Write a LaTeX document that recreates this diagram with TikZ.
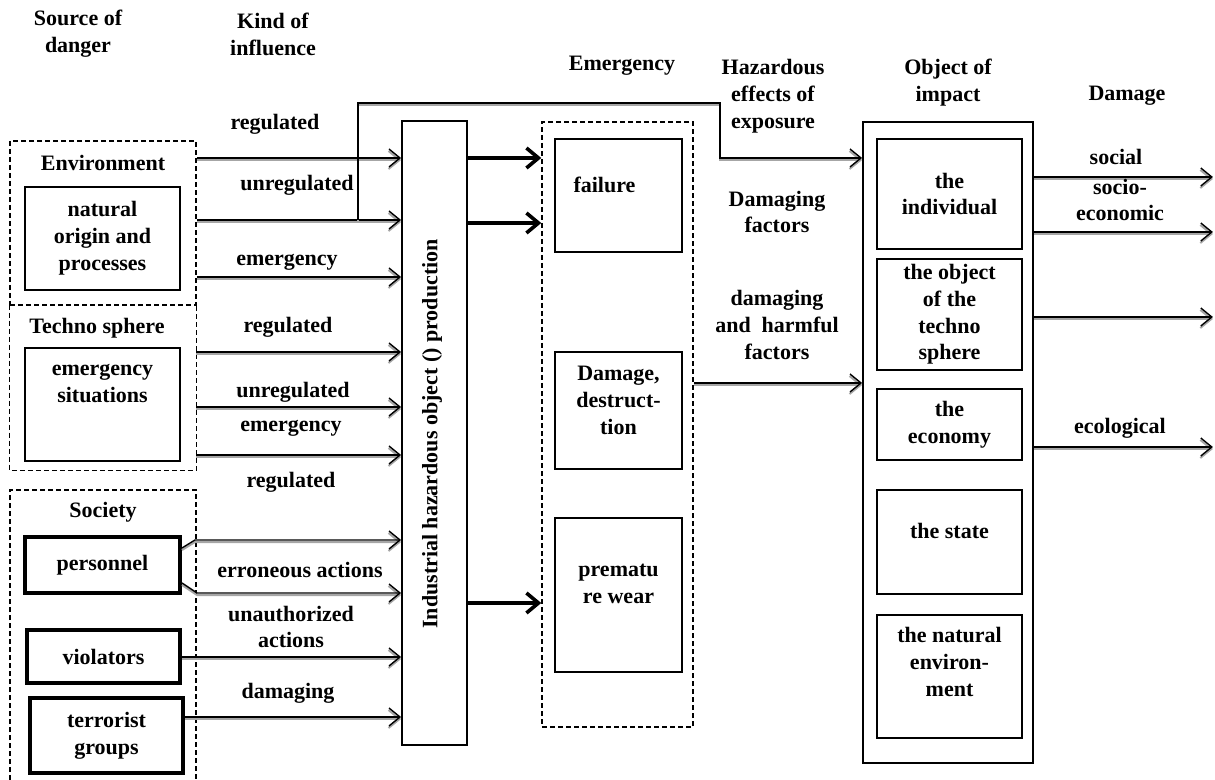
\documentclass[tikz,border=0pt]{standalone}
\usepackage{fontspec}
\setmainfont{Liberation Serif}
\usetikzlibrary{arrows.meta,positioning}

\begin{document}
\begin{tikzpicture}[x=0.5pt, y=-0.5pt,
  every node/.style={font=\fontsize{11}{13.4}\selectfont\bfseries, align=center, inner sep=0pt},
  group/.style={draw, line width=0.75pt, dash pattern=on 2.5pt off 1.5pt},
  box/.style={draw, line width=0.9pt},
  heavybox/.style={draw, line width=2pt},
  flow/.style={-{Straight Barb[length=5.5pt,width=9pt]}, line width=0.7pt,
    preaction={draw=black!35, line width=1pt, transform canvas={yshift=-1pt}}},
  bold flow/.style={-{Straight Barb[length=6pt,width=10pt]}, line width=1.8pt}
]
  \useasboundingbox (0,0) rectangle (1215,780);

  % column titles
  \node (hsrc)  at (78,34)   {Source of\\danger};
  \node (hkind) at (273,34)  {Kind of\\influence};
  \node (hemer) at (622,66)  {Emergency};
  \node (hhaz)  at (773,96)  {Hazardous\\effects of\\exposure};
  \node (hobj)  at (948,83)  {Object of\\impact};
  \node (hdam)  at (1127,96) {Damage};

  % sources of danger
  \node[group, minimum width=93pt, minimum height=82pt] (env) at (103,223) {};
  \node[minimum width=93pt, minimum height=82.5pt] (techno) at (103,387.5) {};
  \draw[group] (techno.north west) -- (techno.south west) -- (techno.south east) -- (techno.north east);
  \draw[group] (10,780) |- (196,490) -- (196,780);
  \node (lenv)  at (103,163) {Environment};
  \node (ltech) at (97,328)  {Techno sphere};
  \node (lsoc)  at (103,512) {Society};
  \node[box, minimum width=77.5pt, minimum height=51.5pt] (nat) at (102.5,238.5) {natural\\origin and\\processes};
  \node[box, minimum width=77.5pt, minimum height=56.5pt, text depth=21pt] (emsit) at (102.5,404.5) {emergency\\situations};
  \node[heavybox, minimum width=77.5pt, minimum height=28pt] (pers) at (102.5,565) {personnel};
  \node[heavybox, minimum width=76.5pt, minimum height=26.5pt] (viol) at (103.5,656.5) {violators};
  \node[heavybox, minimum width=76.5pt, minimum height=37.5pt] (terr) at (106.5,735.5) {terrorist\\groups};

  % industrial object
  \node[box, minimum width=32.5pt, minimum height=312pt] (ind) at (434.5,433) {};
  \node[rotate=90] (indtxt) at (432,434) {Industrial hazardous object () production};

  % emergency
  \node[group, minimum width=75.5pt, minimum height=302.5pt] (emer) at (617.5,424.5) {};
  \node[box, minimum width=63.5pt, minimum height=56.5pt, text depth=10.5pt] (fail) at (618.5,195.5) {failure\kern14pt};
  \node[box, minimum width=63.5pt, minimum height=58.5pt, text depth=10.5pt] (dmg) at (618.5,410.5) {Damage,\\destruct-\\tion};
  \node[box, minimum width=63.5pt, minimum height=77pt, text depth=11pt] (wear) at (618.5,595) {prematu\\re wear};

  % objects of impact
  \node[box, minimum width=85pt, minimum height=320.5pt] (obj) at (948,442.5) {};
  \node[box, minimum width=72.5pt, minimum height=55pt] (indiv) at (949.5,194) {the\\individual};
  \node[box, minimum width=72.5pt, minimum height=55.5pt] (tobj) at (949.5,314.5) {the object\\of the\\techno\\sphere};
  \node[box, minimum width=72.5pt, minimum height=35.5pt] (econ) at (949.5,424.5) {the\\economy};
  \node[box, minimum width=72.5pt, minimum height=52pt, text depth=11pt] (state) at (949.5,542) {the state};
  \node[box, minimum width=72.5pt, minimum height=61.5pt, text depth=14.5pt] (nenv) at (949.5,676.5) {the natural\\environ-\\ment};

  % kinds of influence
  \foreach \y in {158,220,277} \draw[flow] (env.east |- 0,\y) -- (ind.west |- 0,\y);
  \foreach \y in {352,407,455} \draw[flow] (techno.east |- 0,\y) -- (ind.west |- 0,\y);
  \draw[flow] (pers.east |- 0,548) -- ++(13,-8) -- (ind.west |- 0,540);
  \draw[flow] (pers.east |- 0,583) -- ++(15,10) -- (ind.west |- 0,593);
  \draw[flow] (viol.east |- 0,657) -- (ind.west |- 0,657);
  \draw[flow] (terr.east |- 0,717) -- (ind.west |- 0,717);
  \coordinate (tap) at (358,220);
  \draw[flow] (tap) |- (720,103) |- (obj.west |- 0,158);

  \node (kreg1)  at (275,124) {regulated};
  \node (kunr1)  at (297,185) {unregulated};
  \node (kemg1)  at (287,262) {emergency};
  \node (kreg2)  at (288,327) {regulated};
  \node (kunr2)  at (293,392) {unregulated};
  \node (kemg2)  at (291,428) {emergency};
  \node (kreg3)  at (291,482) {regulated};
  \node (kerr)   at (300,570) {erroneous actions};
  \node (kunau)  at (291,627) {unauthorized\\actions};
  \node (kdam)   at (288,693) {damaging};

  % into the emergency
  \foreach \y in {158,223,603} \draw[bold flow] (ind.east |- 0,\y) -- (emer.west |- 0,\y);

  % hazardous effects
  \draw[flow] (emer.east |- 0,383) -- (obj.west |- 0,383);
  \node (fdam)  at (777,212) {Damaging\\factors};
  \node (fharm) at (777,325) {damaging\\and~ harmful\\factors};

  % damage
  \foreach \y in {177,232,317,447} \draw[flow] (obj.east |- 0,\y) -- ++(179,0);
  \node (dsoc)  at (1116,157) {social};
  \node (dsec)  at (1120,200) {socio-\\economic};
  \node (decol) at (1120,428) {ecological};
\end{tikzpicture}
\end{document}
